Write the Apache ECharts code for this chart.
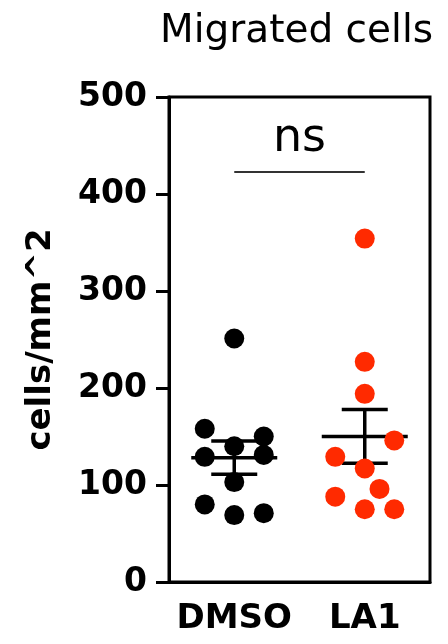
<!DOCTYPE html>
<html><head><meta charset="utf-8">
<script src="https://cdn.jsdelivr.net/npm/echarts@6/dist/echarts.min.js"></script>
<style>html,body{margin:0;padding:0;background:#fff}#c{width:448px;height:644px}</style>
</head><body><div id="c"></div>
<script>
const categories = ['DMSO', 'LA1'];
const dmsoValues = [251, 158, 140, 150, 131, 129, 103, 80, 69, 71];
const dmsoColumns = [0, -1, 0, 1, 1, -1, 0, -1, 0, 1];
const la1Values = [354, 227, 194, 146, 129, 117, 96, 88, 75, 75];
const la1Columns = [0, 0, 0, 1, -1, 0, 0.5, -1, 0, 1];
const yTicks = [0, 100, 200, 300, 400, 500];
const titleText = 'Migrated cells';
const yName = 'cells/mm^2';
const sigLabel = 'ns';
const sigLevel = 423;

function mean(a){ return a.reduce((s,v)=>s+v,0)/a.length; }
function sem(a){ const m=mean(a); const v=a.reduce((s,x)=>s+(x-m)*(x-m),0)/(a.length-1); return Math.sqrt(v/a.length); }

const colStep = 29.5;
function pts(values, cols, idx){
  return values.map((v,i)=>({value:[idx, v], symbolOffset:[cols[i]*colStep, 0]}));
}

function renderBars(params, api){
  const cx = api.value(0), m = api.value(1), s = api.value(2);
  const pm = api.coord([cx, m]);
  const pt = api.coord([cx, m + s]);
  const pb = api.coord([cx, m - s]);
  const style = {stroke:'#000', lineWidth:3.5};
  return {type:'group', children:[
    {type:'line', shape:{x1:pm[0]-43, y1:pm[1], x2:pm[0]+43, y2:pm[1]}, style},
    {type:'line', shape:{x1:pt[0], y1:pt[1], x2:pb[0], y2:pb[1]}, style},
    {type:'line', shape:{x1:pt[0]-23, y1:pt[1], x2:pt[0]+23, y2:pt[1]}, style},
    {type:'line', shape:{x1:pb[0]-23, y1:pb[1], x2:pb[0]+23, y2:pb[1]}, style}
  ]};
}

const chart = echarts.init(document.getElementById('c'), null, {renderer:'canvas'});
chart.setOption({
  animation:false,
  backgroundColor:'#fff',
  title:{text:titleText, left:155, top:7, textStyle:{fontFamily:'DejaVu Sans', fontWeight:'normal', fontSize:39, color:'#000'}},
  grid:{left:169, right:18, top:97, bottom:62, show:true, borderColor:'#000', borderWidth:3},
  xAxis:{type:'category', data:categories, boundaryGap:true,
    axisLine:{lineStyle:{color:'#000', width:3}},
    axisTick:{alignWithLabel:true, length:12, lineStyle:{color:'#000', width:3}},
    axisLabel:{interval:0, hideOverlap:false, margin:20, fontFamily:'DejaVu Sans', fontWeight:'bold', fontSize:34, color:'#000'},
    splitLine:{show:false}},
  yAxis:{type:'value', min:yTicks[0], max:yTicks[yTicks.length-1], interval:100,
    name:yName, nameLocation:'middle', nameGap:111,
    nameTextStyle:{fontFamily:'DejaVu Sans', fontWeight:'bold', fontSize:34, color:'#000'},
    axisLine:{show:true, lineStyle:{color:'#000', width:3}},
    axisTick:{show:true, length:13, lineStyle:{color:'#000', width:3}},
    axisLabel:{margin:22, fontFamily:'DejaVu Sans', fontWeight:'bold', fontSize:33, color:'#000'},
    splitLine:{show:false}},
  series:[
    {type:'custom', renderItem:renderBars, z:2,
     data:[[0, mean(dmsoValues), sem(dmsoValues)], [1, mean(la1Values), sem(la1Values)]]},
    {type:'scatter', name:'DMSO', z:3, symbol:'circle', symbolSize:20, itemStyle:{color:'#000', opacity:1},
     data:pts(dmsoValues, dmsoColumns, 0),
     markLine:{silent:true, symbol:'none', lineStyle:{color:'#333', width:2, type:'solid'},
       label:{show:true, position:'middle', formatter:sigLabel, distance:10, fontFamily:'DejaVu Sans', fontSize:46, color:'#000'},
       data:[[{coord:[0, sigLevel]}, {coord:[1, sigLevel]}]]}},
    {type:'scatter', name:'LA1', z:3, symbol:'circle', symbolSize:20, itemStyle:{color:'#ff2a00', opacity:1},
     data:pts(la1Values, la1Columns, 1)}
  ]
});
</script></body></html>
